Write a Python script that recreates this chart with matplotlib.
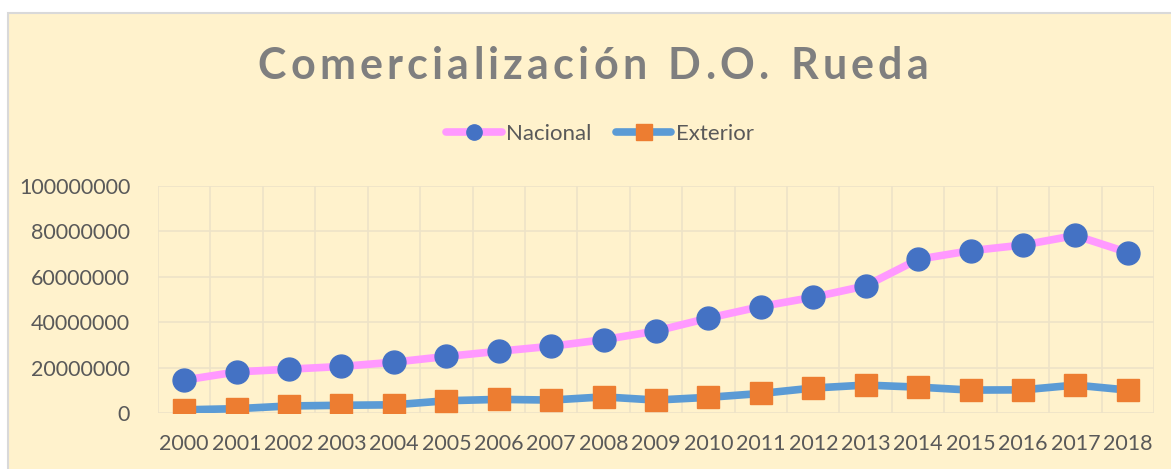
import numpy as np
import matplotlib.pyplot as plt
from matplotlib.patches import Rectangle
from matplotlib.lines import Line2D

years = [str(y) for y in range(2000, 2019)]
nacional = [14.5e6, 18.1e6, 19.3e6, 20.5e6, 22.4e6, 24.9e6, 27.2e6, 29.4e6, 32.3e6, 36.1e6,
            41.8e6, 46.9e6, 51.0e6, 56.0e6, 67.7e6, 71.5e6, 74.0e6, 78.2e6, 70.7e6]
exterior = [1.4e6, 1.9e6, 3.1e6, 3.4e6, 3.6e6, 5.4e6, 6.0e6, 5.7e6, 7.1e6, 5.7e6,
            6.9e6, 8.6e6, 11.0e6, 12.3e6, 11.4e6, 10.1e6, 10.2e6, 12.3e6, 10.1e6]
yticks = [0, 20000000, 40000000, 60000000, 80000000, 100000000]
title = "Comercialización D.O. Rueda"

plt.rcParams['font.family'] = ['Lato', 'DejaVu Sans']

W, H = 1171, 469
fig = plt.figure(figsize=(W / 100, H / 100), dpi=100)
fig.patch.set_facecolor('white')

bg = '#FFF2CC'
grid = '#EDE3C8'
txt = '#595959'

# chart area
fig.patches.append(Rectangle((8 / W, -0.1), 1.2, 1 - 13 / H + 0.1, transform=fig.transFigure,
                             facecolor=bg, edgecolor='#D9D9D9', linewidth=1.5, zorder=-10))

ax = fig.add_axes([158 / W, (H - 413) / H, (1154 - 158) / W, (413 - 186) / H])
ax.set_facecolor('none')
x = np.arange(len(years))

ax.plot(x, nacional, color='#FF99FF', lw=5.5, marker='o', ms=16.5,
        mfc='#4472C4', mec='#4472C4', label='Nacional', solid_capstyle='round', zorder=3)
ax.plot(x, exterior, color='#5B9BD5', lw=5.5, marker='s', ms=15.5,
        mfc='#ED7D31', mec='#ED7D31', label='Exterior', solid_capstyle='round', zorder=3)

ax.set_xlim(-0.5, len(years) - 0.5)
ax.set_ylim(0, 100000000)
ax.set_xticks(x)
ax.set_xticklabels(years)
ax.set_yticks(yticks)
ax.set_yticklabels([str(v) for v in yticks])
ax.set_xticks(np.arange(-0.5, len(years), 1), minor=True)
ax.grid(True, which='minor', axis='x', color=grid, lw=1.2)
ax.grid(True, which='major', axis='y', color=grid, lw=1.2)
ax.tick_params(which='both', length=0)
ax.tick_params(axis='x', pad=15, labelsize=15.5, labelcolor=txt)
ax.tick_params(axis='y', pad=20, labelsize=15.5, labelcolor=txt)
for s in ax.spines.values():
    s.set_visible(False)

# title with letter spacing
fig.canvas.draw()
r = fig.canvas.get_renderer()
fs = 31
spacing = 4.2
widths = []
for ch in title:
    t = fig.text(0, 0, ch if ch != ' ' else 'n', fontsize=fs, fontweight='bold')
    bb = t.get_window_extent(r)
    widths.append(bb.width * (0.55 if ch == ' ' else 1))
    t.remove()
total = sum(widths) + spacing * (len(title) - 1)
xpos = 593 - total / 2
for ch, w in zip(title, widths):
    fig.text(xpos / W, 1 - 79 / H, ch, fontsize=fs, fontweight='bold', color='#7F7F7F',
             ha='left', va='baseline')
    xpos += w + spacing

handles = [Line2D([], [], color='#FF99FF', lw=5.5, marker='o', ms=11, mfc='#4472C4', mec='#4472C4',
                  solid_capstyle='round'),
           Line2D([], [], color='#5B9BD5', lw=5.5, marker='s', ms=11, mfc='#ED7D31', mec='#ED7D31',
                  solid_capstyle='round')]
fig.legend(handles, ['Nacional', 'Exterior'], loc='center', bbox_to_anchor=(600 / W, 1 - 134 / H),
           ncol=2, frameon=False, fontsize=16, labelcolor=txt, handlelength=2.5,
           handletextpad=0.2, columnspacing=1.1)

fig.savefig('out.png', dpi=100)
